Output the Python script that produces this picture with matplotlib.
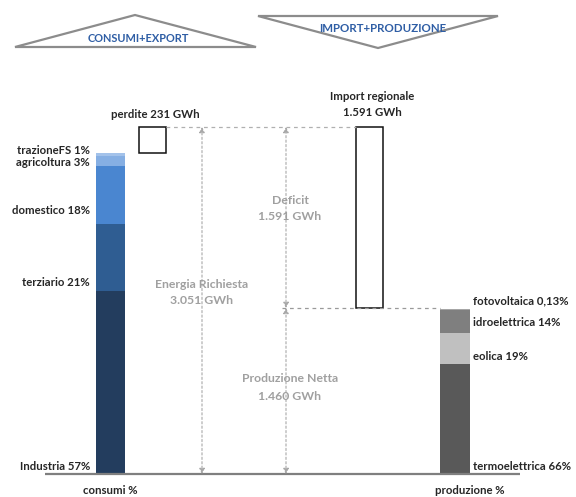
import matplotlib
matplotlib.use("Agg")
import matplotlib.pyplot as plt
from matplotlib.patches import Polygon

plt.rcParams['font.family'] = ['Lato', 'DejaVu Sans']

# --- data -------------------------------------------------------------
energia_richiesta = 3051      # GWh
perdite = 231                 # GWh
import_regionale = 1591       # GWh
produzione_netta = 1460       # GWh
consumi_totali = energia_richiesta - perdite

consumi_labels = ["Industria", "terziario", "domestico", "agricoltura", "trazioneFS"]
consumi_pct = [57, 21, 18, 3, 1]
consumi_colors = ["#233d5e", "#2f5d92", "#4a86d0", "#86afe3", "#a3c2ea"]

prod_labels = ["termoelettrica", "eolica", "idroelettrica", "fotovoltaica"]
prod_pct = [66, 19, 14, 0.13]
prod_pct_text = ["66%", "19%", "14%", "0,13%"]
prod_colors = ["#595959", "#c0c0c0", "#7f7f7f", "#a6a6a6"]

# --- canvas: x in px-like units, y in GWh -----------------------------
W, H = 576, 497
fig = plt.figure(figsize=(W / 100, H / 100), dpi=100)
ax = fig.add_axes([0, 0, 1, 1])
scale = 347 / energia_richiesta          # px per GWh
base_px = 474


def gy(p):
    """vertical screen row -> GWh coordinate"""
    return (base_px - p) / scale


ax.set_xlim(0, W)
ax.set_ylim(gy(H), gy(0))
ax.axis("off")

txt = "#262626"
grey = "#a0a0a0"
fs_lab = 8.2
fs_mid = 8.8

# consumi stacked bar
bottom = 0
for lab, pct, col in zip(consumi_labels, consumi_pct, consumi_colors):
    v = consumi_totali * pct / 100
    ax.bar(110.5, v, width=29, bottom=bottom, color=col, edgecolor="none")
    bottom += v

# perdite box
ax.bar(152.5, perdite, width=27, bottom=consumi_totali, facecolor="white",
       edgecolor="#111111", linewidth=1.1)

# import box
ax.bar(369, import_regionale, width=27, bottom=produzione_netta,
       facecolor="white", edgecolor="#111111", linewidth=1.1)

# produzione stacked bar
bottom = 0
for lab, pct, col in zip(prod_labels, prod_pct, prod_colors):
    v = produzione_netta * pct / 100
    ax.bar(455, v, width=30, bottom=bottom, color=col, edgecolor="none")
    bottom += v

# baseline
ax.plot([45, 520], [0, 0], color="#7f7f7f", lw=1.6, solid_capstyle="butt")

# dashed guide lines
ax.plot([166, 356], [energia_richiesta] * 2, color="#b0b0b0", lw=0.9, ls=(0, (3, 3)))
ax.plot([282, 440], [produzione_netta] * 2, color="#9a9a9a", lw=0.9, ls=(0, (3, 3)))

# dimension arrows
def dim_arrow(x, y0, y1):
    ax.annotate("", xy=(x, y1), xytext=(x, y0),
                arrowprops=dict(arrowstyle="<|-|>", color="#a8a8a8", lw=0.8,
                                ls=(0, (2, 2)), mutation_scale=8,
                                shrinkA=0, shrinkB=0))

dim_arrow(202, 0, energia_richiesta)
dim_arrow(286, produzione_netta, energia_richiesta)
dim_arrow(286, 0, produzione_netta)

# left labels
left_pos = {"trazioneFS": 150, "agricoltura": 162, "domestico": 211,
            "terziario": 282, "Industria": 467}
for lab, pct in zip(consumi_labels, consumi_pct):
    ax.text(90, gy(left_pos[lab]), f"{lab} {pct}%", ha="right", va="center",
            fontsize=fs_lab, fontweight="bold", color=txt)

# right labels
right_pos = {"fotovoltaica": 301, "idroelettrica": 322, "eolica": 356,
             "termoelettrica": 467}
for lab, pt in zip(prod_labels, prod_pct_text):
    ax.text(473, gy(right_pos[lab]), f"{lab} {pt}", ha="left", va="center",
            fontsize=fs_lab, fontweight="bold", color=txt)

ax.text(110, gy(490), "consumi %", ha="center", va="center", fontsize=fs_lab,
        fontweight="bold", color=txt)
ax.text(470, gy(491), "produzione %", ha="center", va="center", fontsize=fs_lab,
        fontweight="bold", color=txt)

# value annotations
ax.text(155, gy(115), f"perdite {perdite} GWh", ha="center", va="center",
        fontsize=fs_lab, fontweight="bold", color=txt)
ax.text(372, gy(97), "Import regionale", ha="center", va="center",
        fontsize=fs_lab, fontweight="bold", color=txt)
ax.text(372, gy(113), "1.591 GWh", ha="center", va="center",
        fontsize=fs_lab, fontweight="bold", color=txt)

ax.text(290, gy(200), "Deficit", ha="center", va="center", fontsize=fs_mid,
        fontweight="bold", color=grey)
ax.text(290, gy(217), "1.591 GWh", ha="center", va="center", fontsize=fs_mid,
        fontweight="bold", color=grey)
ax.text(202, gy(285), "Energia Richiesta", ha="center", va="center",
        fontsize=fs_mid, fontweight="bold", color=grey)
ax.text(202, gy(300), "3.051 GWh", ha="center", va="center", fontsize=fs_mid,
        fontweight="bold", color=grey)
ax.text(290, gy(379), "Produzione Netta", ha="center", va="center",
        fontsize=fs_mid, fontweight="bold", color=grey)
ax.text(290, gy(396), "1.460 GWh", ha="center", va="center", fontsize=fs_mid,
        fontweight="bold", color=grey)

# header triangles
tri_up = Polygon([(15, gy(47)), (135, gy(15)), (256, gy(47))], closed=True,
                 facecolor="white", edgecolor="#8c8c8c", lw=1.6)
tri_down = Polygon([(258, gy(16)), (498, gy(16)), (378, gy(48))], closed=True,
                   facecolor="white", edgecolor="#8c8c8c", lw=1.6)
ax.add_patch(tri_up)
ax.add_patch(tri_down)
ax.text(138, gy(38), "CONSUMI+EXPORT", ha="center", va="center", fontsize=7.9,
        fontweight="bold", color="#2f5ea5")
ax.text(383, gy(28), "IMPORT+PRODUZIONE", ha="center", va="center",
        fontsize=8.3, fontweight="bold", color="#2f5ea5")

fig.savefig("out.png", dpi=100, facecolor="white")
